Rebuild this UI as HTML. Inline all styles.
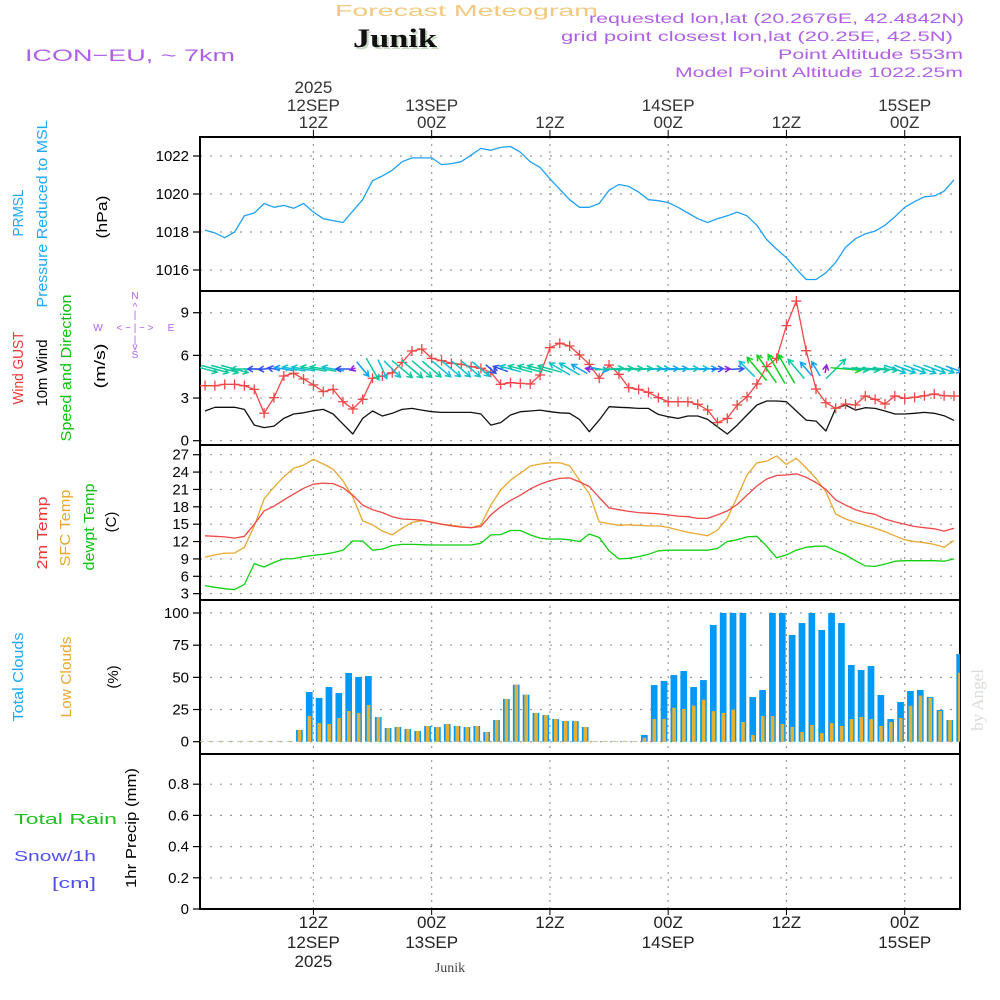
<!DOCTYPE html>
<html><head><meta charset="utf-8"><title>Forecast Meteogram Junik</title>
<style>
html,body{margin:0;padding:0;background:#fff;}
svg{display:block;font-family:"Liberation Sans",sans-serif;}
</style></head>
<body>
<svg id="chart" width="1000" height="1000" viewBox="0 0 1000 1000" xmlns="http://www.w3.org/2000/svg">
<rect x="0" y="0" width="1000" height="1000" fill="#fff"/>
<text x="335" y="16" font-size="16" fill="#f2c97e" textLength="263" lengthAdjust="spacingAndGlyphs">Forecast Meteogram</text>
<text x="355" y="49" font-size="26" font-weight="bold" font-family="Liberation Serif,serif" fill="#c5d9c5" textLength="84" lengthAdjust="spacingAndGlyphs">Junik</text>
<text x="353" y="47" font-size="26" font-weight="bold" font-family="Liberation Serif,serif" fill="#111" textLength="84" lengthAdjust="spacingAndGlyphs">Junik</text>
<text x="25" y="61" font-size="17" fill="#b060e8" textLength="210" lengthAdjust="spacingAndGlyphs">ICON−EU, ~ 7km</text>
<g font-size="14" fill="#b060e8">
<text x="589" y="23" textLength="375" lengthAdjust="spacingAndGlyphs">requested lon,lat (20.2676E, 42.4842N)</text>
<text x="561" y="41" textLength="392" lengthAdjust="spacingAndGlyphs">grid point closest lon,lat (20.25E, 42.5N)</text>
<text x="778" y="59" textLength="185" lengthAdjust="spacingAndGlyphs">Point Altitude 553m</text>
<text x="675" y="77" textLength="288" lengthAdjust="spacingAndGlyphs">Model Point Altitude 1022.25m</text>
</g>
<g id="axes"></g>
<g id="marks"></g>
<g font-size="15">
<text transform="translate(23,213) rotate(-90)" text-anchor="middle" fill="#20a8f8" textLength="47" lengthAdjust="spacingAndGlyphs">PRMSL</text>
<text transform="translate(47,214) rotate(-90)" text-anchor="middle" fill="#20a8f8" textLength="187" lengthAdjust="spacingAndGlyphs">Pressure Reduced to MSL</text>
<text transform="translate(107,217) rotate(-90)" text-anchor="middle" fill="#000" textLength="43" lengthAdjust="spacingAndGlyphs">(hPa)</text>
<text transform="translate(23,368) rotate(-90)" text-anchor="middle" fill="#f03838" textLength="73" lengthAdjust="spacingAndGlyphs">Wind GUST</text>
<text transform="translate(47,373) rotate(-90)" text-anchor="middle" fill="#000" textLength="67" lengthAdjust="spacingAndGlyphs">10m Wind</text>
<text transform="translate(71,368) rotate(-90)" text-anchor="middle" fill="#10c010" textLength="147" lengthAdjust="spacingAndGlyphs">Speed and Direction</text>
<text transform="translate(105,366) rotate(-90)" text-anchor="middle" fill="#000" textLength="45" lengthAdjust="spacingAndGlyphs">(m/s)</text>
<g font-size="10" fill="#b060e8" text-anchor="middle">
<text x="135" y="299">N</text><text x="135" y="310">^</text><text x="135" y="318">|</text>
<text x="98" y="331">W</text><text x="135" y="331">&lt; − | − &gt;</text><text x="171" y="331">E</text>
<text x="135" y="343">|</text><text x="135" y="350">v</text><text x="135" y="358">S</text>
</g>
<text transform="translate(47,533) rotate(-90)" text-anchor="middle" fill="#f03838" textLength="73" lengthAdjust="spacingAndGlyphs">2m Temp</text>
<text transform="translate(70,528) rotate(-90)" text-anchor="middle" fill="#e8a830" textLength="77" lengthAdjust="spacingAndGlyphs">SFC Temp</text>
<text transform="translate(94,527) rotate(-90)" text-anchor="middle" fill="#10c010" textLength="87" lengthAdjust="spacingAndGlyphs">dewpt Temp</text>
<text transform="translate(116,522) rotate(-90)" text-anchor="middle" fill="#000">(C)</text>
<text transform="translate(23,677) rotate(-90)" text-anchor="middle" fill="#20a8f8" textLength="89" lengthAdjust="spacingAndGlyphs">Total Clouds</text>
<text transform="translate(71,677) rotate(-90)" text-anchor="middle" fill="#e8a830" textLength="81" lengthAdjust="spacingAndGlyphs">Low Clouds</text>
<text transform="translate(118,677) rotate(-90)" text-anchor="middle" fill="#000">(%)</text>
<text x="14" y="824" fill="#20c020" textLength="103" lengthAdjust="spacingAndGlyphs">Total   Rain</text>
<text x="14" y="861" fill="#5050f0" textLength="82" lengthAdjust="spacingAndGlyphs">Snow/1h</text>
<text x="52" y="888" fill="#5050f0" textLength="44" lengthAdjust="spacingAndGlyphs">[cm]</text>
<text transform="translate(136,828) rotate(-90)" text-anchor="middle" fill="#000" textLength="120" lengthAdjust="spacingAndGlyphs">1hr Precip (mm)</text>
</g>
<text x="450" y="972" text-anchor="middle" font-size="14" font-family="Liberation Serif,serif" fill="#444">Junik</text>
<text transform="translate(983,700) rotate(-90)" text-anchor="middle" font-size="17" font-family="Liberation Serif,serif" fill="#d8ddd8">by Angel</text>
</svg>
<script>
// ---- data (hour 1 = 01Z 12SEP) ----
const hours = [1,2,3,4,5,6,7,8,9,10,11,12,13,14,15,16,17,18,19,20,21,22,23,24,25,26,27,28,29,30,31,32,33,34,35,36,37,38,39,40,41,42,43,44,45,46,47,48,49,50,51,52,53,54,55,56,57,58,59,60,61,62,63,64,65,66,67,68,69,70,71,72,73,74,75,76,77];
const pressure = [1018.1,1017.95,1017.7,1018.0,1018.85,1019.0,1019.5,1019.3,1019.4,1019.25,1019.5,1019.05,1018.7,1018.6,1018.5,1019.1,1019.7,1020.7,1020.95,1021.25,1021.7,1021.9,1021.9,1021.9,1021.55,1021.6,1021.7,1022.05,1022.4,1022.3,1022.45,1022.5,1022.2,1021.7,1021.4,1020.8,1020.25,1019.7,1019.3,1019.3,1019.5,1020.2,1020.5,1020.4,1020.1,1019.7,1019.65,1019.55,1019.3,1019.0,1018.7,1018.5,1018.7,1018.85,1019.05,1018.85,1018.35,1017.6,1017.1,1016.65,1016.05,1015.5,1015.5,1015.85,1016.4,1017.2,1017.65,1017.9,1018.05,1018.35,1018.8,1019.3,1019.6,1019.85,1019.9,1020.15,1020.75];
const gust = [3.87,3.87,3.96,3.96,3.87,3.61,1.93,3.03,4.55,4.74,4.34,3.92,3.45,3.61,2.74,2.23,2.91,4.39,4.55,4.78,5.51,6.31,6.45,5.79,5.63,5.44,5.37,5.21,5.09,4.81,3.96,4.08,4.03,3.99,4.62,6.54,6.85,6.66,6.03,5.37,4.39,5.32,4.67,3.73,3.61,3.40,3.03,2.74,2.74,2.74,2.56,2.16,1.27,1.57,2.51,3.09,3.99,5.21,5.79,8.09,9.82,6.33,3.63,2.67,2.28,2.58,2.51,3.14,2.91,2.58,3.14,2.98,3.05,3.16,3.28,3.16,3.14];
const wind10m = [2.09,2.35,2.35,2.35,2.2,1.1,0.92,1.03,1.57,1.88,1.96,2.11,2.2,1.88,1.17,0.47,1.57,2.09,1.74,1.93,2.2,2.27,2.15,2.04,1.99,1.99,1.99,1.99,1.88,1.1,1.27,1.81,2.04,2.09,2.15,2.04,1.96,1.93,1.5,0.63,1.45,2.39,2.35,2.32,2.27,2.27,1.85,1.69,1.57,1.74,1.74,1.5,0.98,0.47,1.1,1.81,2.51,2.79,2.79,2.74,2.09,1.45,1.38,0.68,2.27,2.51,2.15,2.32,2.27,2.09,1.88,1.88,1.93,1.99,1.93,1.76,1.43];
const windTo = [-15,-15,-15,-15,180,180,185,170,170,170,170,170,170,170,180,200,-50,-60,-65,-45,-40,-40,-40,-40,-40,-40,-40,-40,-40,-40,160,165,165,165,165,165,150,150,150,170,-10,3,3,3,3,3,3,3,3,3,3,3,3,3,3,135,130,125,120,120,130,130,120,80,45,-5,-5,-5,-5,-5,-20,-20,-20,-20,-20,-20,-20];
const temp2m = [13.0,12.9,12.8,12.6,12.9,15.0,17.3,18.1,19.2,20.2,21.2,21.9,22.1,22.0,21.3,20.0,18.3,17.5,17.0,16.3,15.9,15.8,15.7,15.3,15.0,14.7,14.5,14.4,14.6,16.6,18.0,19.1,20.0,21.1,21.9,22.5,22.9,23.0,22.3,21.5,19.6,17.8,17.5,17.2,17.0,16.9,16.8,16.6,16.4,16.3,16.0,16.0,16.6,17.3,18.4,20.0,21.6,22.8,23.4,23.5,23.7,23.1,22.2,21.0,19.2,18.3,17.5,17.0,16.7,15.9,15.4,15.0,14.6,14.4,14.2,13.8,14.3];
const tempSfc = [9.3,9.7,10.0,10.0,11.0,14.7,19.35,21.4,23.2,24.65,25.2,26.2,25.4,24.5,22.5,19.7,15.55,14.9,13.8,13.15,14.3,15.3,15.6,15.4,15.0,14.8,14.6,14.4,14.9,18.3,20.9,22.6,23.8,25.05,25.4,25.6,25.6,25.1,22.6,20.3,15.4,15.1,14.8,14.9,14.8,14.7,14.7,14.45,14.0,13.6,13.3,13.0,14.0,16.0,19.7,23.5,25.6,25.9,26.8,25.3,26.4,24.7,22.9,20.6,16.75,15.9,15.3,14.8,14.3,13.7,13.0,12.3,12.0,11.8,11.5,11.0,12.2];
const dewpt = [4.4,4.1,3.85,3.7,4.6,8.2,7.6,8.4,9.0,9.05,9.4,9.6,9.8,10.1,10.5,12.1,12.1,10.5,10.7,11.3,11.5,11.5,11.45,11.4,11.4,11.4,11.4,11.4,11.7,13.15,13.2,13.9,13.9,13.15,12.6,12.4,12.45,12.3,12.0,13.3,12.7,10.4,9.0,9.1,9.4,9.8,10.4,10.5,10.5,10.5,10.5,10.5,10.8,12.0,12.3,12.8,12.9,11.2,9.2,9.7,10.5,11.0,11.2,11.2,10.4,9.7,8.7,7.8,7.7,8.1,8.6,8.7,8.7,8.7,8.7,8.6,9.0];
const cloudHours = [1,2,3,4,5,6,7,8,9,10,11,12,13,14,15,16,17,18,19,20,21,22,23,24,25,26,27,28,29,30,31,32,33,34,35,36,37,38,39,40,41,42,43,44,45,46,47,48,49,50,51,52,53,54,55,56,57,58,59,60,61,62,63,64,65,66,67,68,69,70,71,72,73,74,75,76,77,78];
const totalClouds = [0,0,0,0,0,0,0,0,0,0,9.1,38.6,34,42.5,37.8,53.4,50.3,51.0,19.2,10.6,11.4,9.8,8.3,12.2,11.4,13.7,12.2,11.4,12.2,7.5,16.8,33.2,44.3,36.5,22.3,20.7,17.6,16.1,16.1,11.4,0,0,0,0,0,5.2,44.0,47.2,51.8,54.9,42.5,47.9,90.7,100,100,100,34.7,40.2,100,100,82.9,92.2,100,86.8,100,92.2,59.6,55.7,58.8,36.3,17.6,30.8,39.4,40.2,34.7,24.6,16.8,68.1];
const lowClouds = [0,0,0,0,0,0,0,0,0,0,9.1,19.9,14.5,13.7,18.4,23.8,22.3,28.5,19.2,10.6,11.4,9.8,8.3,12.2,11.4,13.7,12.2,11.4,12.2,7.5,16.8,33.2,44.3,36.5,22.3,20.7,17.6,16.1,16.1,11.4,0,0,0,0,0,3.1,17.6,17.6,26.4,25.4,28.0,32.6,23.8,22.3,24.9,15.3,5.2,19.9,19.9,13.7,11.4,7.5,13.0,6.7,14.5,12.2,17.6,19.2,17.6,12.2,15.3,18.4,28.0,35.8,34.2,23.8,16.8,53.4];
const precip = [0,0,0,0,0,0,0,0,0,0,0,0,0,0,0,0,0,0,0,0,0,0,0,0,0,0,0,0,0,0,0,0,0,0,0,0,0,0,0,0,0,0,0,0,0,0,0,0,0,0,0,0,0,0,0,0,0,0,0,0,0,0,0,0,0,0,0,0,0,0,0,0,0,0,0,0,0];
const pressTicks = [1016,1018,1020,1022];
const windTicks = [0,3,6,9];
const tempTicks = [3,6,9,12,15,18,21,24,27];
const cloudTicks = [0,25,50,75,100];
const precipTicks = [0,0.2,0.4,0.6,0.8];
const topTimeHours = [12,24,36,48,60,72];
const topTimeLabels = [["2025","12SEP","12Z"],["","13SEP","00Z"],["","","12Z"],["","14SEP","00Z"],["","","12Z"],["","15SEP","00Z"]];
const bottomTimeLabels = [["12Z","12SEP","2025"],["00Z","13SEP",""],["12Z","",""],["00Z","14SEP",""],["12Z","",""],["00Z","15SEP",""]];

// ---- scales ----
const X0=200, X1=960;
const xS = h => 205 + (h-1)*9.855;
const yP = p => 156 + (1022-p)*19;
const yW = v => 440.7 - v*14.22;
const yT = t => 454.7 + (27-t)*5.79;
const yC = c => 741.7 - c*1.287;
const yR = r => 909 - r*156;
const panels = [[137,291],[291,445],[445,600],[600,754],[754,909]];

const NS="http://www.w3.org/2000/svg";
function el(tag, attrs, parent){const e=document.createElementNS(NS,tag);for(const k in attrs)e.setAttribute(k,attrs[k]);parent.appendChild(e);return e;}
const axes=document.getElementById('axes'), marks=document.getElementById('marks');

function yAxis(ticks, scale, fmt, name){
  ticks.forEach(t=>{
    const y=scale(t);
    const g=el('line',{x1:X0,x2:X1,y1:y,y2:y,stroke:'#999','stroke-width':1.2,'stroke-dasharray':'2,8'},axes);
    
    
    const tk=el('line',{x1:193,x2:X0,y1:y,y2:y,stroke:'#000','stroke-width':1.2},axes);
    
    
    const tx=el('text',{x:189,y:y+5,'text-anchor':'end','font-size':15,fill:'#000'},axes);
    tx.textContent=fmt(t);
    
    
  });
}
yAxis(pressTicks,yP,t=>String(t),'pressure-axis');
yAxis(windTicks,yW,t=>String(t),'wind-axis');
yAxis(tempTicks,yT,t=>String(t),'temp-axis');
yAxis(cloudTicks,yC,t=>String(t),'cloud-axis');
yAxis(precipTicks,yR,t=>t===0?'0':t.toFixed(1),'precip-axis');

topTimeHours.forEach((h,i)=>{
  const x=xS(h);
  const v=el('line',{x1:x,x2:x,y1:137,y2:909,stroke:'#999','stroke-width':1.2,'stroke-dasharray':'2,5'},axes);
  
  
  const t1=el('line',{x1:x,x2:x,y1:130,y2:137,stroke:'#000'},axes);
  
  
  const t2=el('line',{x1:x,x2:x,y1:909,y2:915,stroke:'#000'},axes);
  
  
  [93,111,128].forEach((y,j)=>{ if(!topTimeLabels[i][j])return;
    const t=el('text',{x:x,y:y,'text-anchor':'middle','font-size':17,fill:'#333'},axes);
    t.textContent=topTimeLabels[i][j];
    
    
  });
  [928,948,967].forEach((y,j)=>{ if(!bottomTimeLabels[i][j])return;
    const t=el('text',{x:x,y:y,'text-anchor':'middle','font-size':17,fill:'#222'},axes);
    t.textContent=bottomTimeLabels[i][j];
    
    
  });
});

panels.forEach((p,i)=>{
  const r=el('rect',{x:X0,y:p[0],width:X1-X0,height:p[1]-p[0],fill:'none',stroke:'#000','stroke-width':2},axes);
  
  
});

function line(vals, xs, scale, color, name, w){
  const d=vals.map((v,i)=>(i?'L':'M')+xS(xs[i]).toFixed(1)+','+scale(v).toFixed(1)).join(' ');
  const p=el('path',{d:d,fill:'none',stroke:color,'stroke-width':w||1.3,'stroke-linejoin':'round'},marks);
  
  
  return p;
}
const clip=el('clipPath',{id:'plotclip'},marks); el('rect',{x:X0,y:137,width:X1-X0,height:772},clip);
marks.setAttribute('clip-path','url(#plotclip)');

line(pressure,hours,yP,'#20a0f8','pressure-line');
line(wind10m,hours,yW,'#111','wind10m-line');
line(gust,hours,yW,'#f04848','gust-line');
gust.forEach((v,i)=>{
  const x=xS(hours[i]), y=yW(v);
  const m=el('path',{d:`M${x-5},${y}H${x+5}M${x},${y-5}V${y+5}`,stroke:'#f04848','stroke-width':1.3},marks);
  
  
});
function windColor(s){ if(s<0.8)return '#9020e0'; if(s<1.3)return '#3050f0'; if(s<1.7)return '#10a0f0'; if(s<2.0)return '#10c0d0'; if(s<2.4)return '#10c8a0'; return '#10d020'; }
wind10m.forEach((s,i)=>{
  const a=windTo[i]*Math.PI/180, L=12*s;
  const cx=xS(hours[i]), cy=369;
  const dx=Math.cos(a)*L/2, dy=-Math.sin(a)*L/2;
  const x2=cx+dx,y2=cy+dy, x1=cx-dx,y1=cy-dy;
  const hl=6, ux=Math.cos(a), uy=-Math.sin(a);
  const hx1=x2-hl*(ux*0.87-uy*0.5), hy1=y2-hl*(uy*0.87+ux*0.5);
  const hx2=x2-hl*(ux*0.87+uy*0.5), hy2=y2-hl*(uy*0.87-ux*0.5);
  const ar=el('path',{d:`M${x1},${y1}L${x2},${y2}M${hx1},${hy1}L${x2},${y2}L${hx2},${hy2}`,stroke:windColor(s),'stroke-width':1.5,fill:'none'},marks);
  
  
});
line(tempSfc,hours,yT,'#e8a830','sfc-temp-line');
line(temp2m,hours,yT,'#f04848','temp2m-line');
line(dewpt,hours,yT,'#10d010','dewpt-line');
totalClouds.forEach((v,i)=>{
  const xr=xS(cloudHours[i]);
  const h=Math.max(v*1.287,0.8);
  const b=el('rect',{x:xr-7.5,y:yC(0)-h,width:6.7,height:h,fill:v>0?'#0099f8':'#9cc8f0'},marks);
  
  
});
lowClouds.forEach((v,i)=>{
  const xr=xS(cloudHours[i]);
  const h=Math.max(v*1.287,0.6);
  const b=el('rect',{x:xr-5.8,y:yC(0)-h,width:3.6,height:h,fill:'#e8b030'},marks);
  
  
});
const pl=line(precip,hours,yR,'#000','precip-line',1.5);
pl.setAttribute('stroke-dasharray','6,3');
</script>
</body></html>
